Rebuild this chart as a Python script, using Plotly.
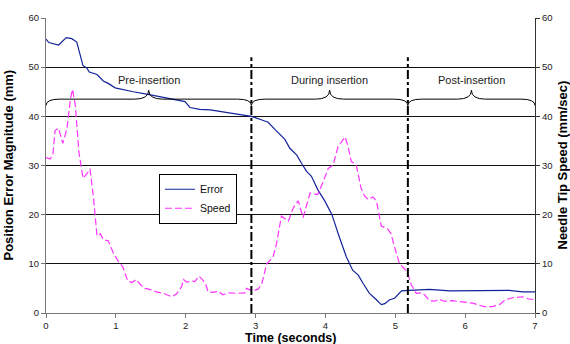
import plotly.graph_objects as go

# ---- data ----
err_t = [0, 0.04, 0.18, 0.29, 0.37, 0.44, 0.53, 0.58, 0.62, 0.73,
         0.82, 0.89, 0.99, 1.11, 1.25, 1.44, 1.63, 1.92, 1.99, 2.06,
         2.2, 2.35, 2.59, 2.78, 2.94, 3.06, 3.18, 3.28, 3.42, 3.49,
         3.59, 3.66, 3.73, 3.80, 3.89, 3.99, 4.09, 4.2, 4.3, 4.39,
         4.47, 4.54, 4.63, 4.73, 4.8, 4.85, 4.92, 4.99, 5.09, 5.2,
         5.49, 5.78, 6.16, 6.63, 6.82, 7.0]
err_v = [55.7, 55.0, 54.5, 56.0, 55.8, 55.1, 50.3, 49.9, 49.0, 48.5,
         47.2, 46.7, 45.8, 45.5, 45.0, 44.5, 44.0, 43.2, 43.0, 41.8,
         41.4, 41.3, 40.8, 40.4, 40.0, 39.4, 38.8, 37.3, 35.3, 33.5,
         32.1, 30.4, 28.8, 27.8, 25.1, 22.8, 20.1, 15.4, 11.4, 8.7,
         7.7, 6.0, 4.0, 2.7, 1.7, 1.9, 2.7, 3.0, 4.5, 4.6,
         4.8, 4.5, 4.6, 4.6, 4.3, 4.3]

spd_t = [0.0, 0.06, 0.1, 0.13, 0.18, 0.24, 0.3, 0.35, 0.38, 0.42,
         0.47, 0.53, 0.59, 0.63, 0.68, 0.73, 0.78, 0.82, 0.89, 0.97,
         1.04, 1.10, 1.17, 1.23, 1.29, 1.35, 1.42, 1.51, 1.58, 1.68,
         1.8, 1.87, 1.94, 1.97, 2.01, 2.09, 2.13, 2.19, 2.24, 2.29,
         2.32, 2.39, 2.47, 2.53, 2.61, 2.73, 2.85, 2.87, 2.92, 2.97,
         3.04, 3.09, 3.16, 3.25, 3.3, 3.37, 3.47, 3.54, 3.61, 3.68,
         3.78, 3.89, 3.97, 4.04, 4.11, 4.18, 4.28, 4.32, 4.37, 4.44,
         4.51, 4.56, 4.61, 4.68, 4.73, 4.8, 4.89, 4.94, 4.99, 5.06,
         5.13, 5.18, 5.23, 5.3, 5.37, 5.42, 5.49, 5.56, 5.63, 5.7,
         5.82, 5.92, 5.99, 6.11, 6.27, 6.39, 6.49, 6.58, 6.68, 6.82,
         6.92, 7.0]
spd_v = [31.6, 31.3, 32.4, 37.1, 37.6, 34.5, 37.5, 43.5, 45.5, 42.2,
         32.8, 27.4, 28.4, 29.3, 23.4, 15.7, 16.1, 14.9, 14.7, 12.0,
         10.4, 9.4, 6.5, 6.2, 6.8, 5.8, 5.0, 4.7, 4.3, 4.0,
         3.3, 3.9, 5.3, 6.8, 6.3, 6.5, 6.4, 7.5, 6.8, 5.7,
         4.3, 4.2, 4.4, 3.7, 4.1, 4.0, 4.1, 5.0, 4.7, 4.5,
         4.9, 6.0, 10.0, 11.4, 14.1, 19.7, 18.7, 21.4, 22.8, 19.4,
         24.4, 24.1, 26.8, 29.4, 30.1, 33.8, 35.8, 34.1, 30.8, 30.2,
         25.4, 23.8, 23.1, 23.6, 22.8, 17.7, 17.1, 16.1, 13.4, 10.0,
         9.0, 8.0, 5.7, 4.0, 4.1, 3.7, 2.5, 2.4, 2.8, 2.4,
         2.5, 2.4, 2.2, 2.0, 1.3, 1.3, 1.7, 2.7, 3.1, 3.3,
         2.8, 2.8]

phase_bounds = [0, 2.94, 5.18, 7]
phase_labels = ["Pre-insertion", "During insertion", "Post-insertion"]
x_ticks = [0, 1, 2, 3, 4, 5, 6, 7]
y_ticks = [0, 10, 20, 30, 40, 50, 60]

FONT = "Arial, Liberation Sans, sans-serif"

fig = go.Figure()
fig.add_trace(go.Scatter(x=err_t, y=err_v, name="Error", mode="lines",
                         line=dict(color="#13239a", width=1.2)))
fig.add_trace(go.Scatter(x=spd_t, y=spd_v, name="Speed", mode="lines", yaxis="y2",
                         line=dict(color="#ff33ff", width=1.2, dash="7px,3px")))

# braces
y_mid, y_end, y_peak, dx = 43.5, 42.2, 45.3, 0.2
shapes = []
for i in range(len(phase_labels)):
    x0, x1 = phase_bounds[i], phase_bounds[i + 1]
    xc = (x0 + x1) / 2
    path = (f"M{x0},{y_end} Q{x0},{y_mid} {x0+dx},{y_mid} "
            f"L{xc-dx},{y_mid} Q{xc},{y_mid} {xc},{y_peak} "
            f"Q{xc},{y_mid} {xc+dx},{y_mid} "
            f"L{x1-dx},{y_mid} Q{x1},{y_mid} {x1},{y_end}")
    shapes.append(dict(type="path", path=path, xref="x", yref="y",
                       line=dict(color="black", width=1)))
    fig.add_annotation(x=xc, y=y_peak + 0.4, text=phase_labels[i], showarrow=False,
                       yanchor="bottom", xref="x", yref="y",
                       font=dict(family=FONT, size=11, color="#222"))
for b in phase_bounds[1:-1]:
    shapes.append(dict(type="line", x0=b, x1=b, y0=0, y1=52, xref="x", yref="y",
                       line=dict(color="black", width=2, dash="dashdot")))
fig.update_layout(shapes=shapes)

axis_font = dict(family=FONT, size=9.5, color="#222")
fig.update_layout(
    width=570, height=344,
    margin=dict(l=46, r=35, t=14, b=31),
    paper_bgcolor="white", plot_bgcolor="white",
    showlegend=True,
    legend=dict(x=0.231, y=0.472, xanchor="left", yanchor="top",
                bgcolor="white", bordercolor="black", borderwidth=1,
                font=dict(family=FONT, size=10.5, color="#111"),
                tracegroupgap=0, itemwidth=30),
    xaxis=dict(range=[0, 7], tickvals=x_ticks, showgrid=False, zeroline=False,
               showline=True, linecolor="#777", linewidth=1,
               ticks="outside", ticklen=4, tickcolor="#777",
               tickfont=axis_font, ticklabelstandoff=0),
    yaxis=dict(range=[0, 60], tickvals=y_ticks, showgrid=True, gridcolor="#111",
               gridwidth=1, zeroline=False, showline=True, linecolor="#777",
               ticks="outside", ticklen=4, tickcolor="#777", tickfont=axis_font),
    yaxis2=dict(range=[0, 60], tickvals=y_ticks, overlaying="y", side="right",
                showgrid=False, zeroline=False, showline=True, linecolor="#333",
                ticks="outside", ticklen=4, tickcolor="#333", tickfont=axis_font),
)

title_font = dict(family=FONT, size=13, color="black")
fig.add_annotation(text="<b>Time (seconds)</b>", xref="paper", yref="paper",
                   x=0.5, y=0, yshift=-33, xanchor="center", yanchor="bottom",
                   showarrow=False, font=dict(family=FONT, size=12.5, color="black"),
                   borderpad=0)
fig.add_annotation(text="<b>Position Error Magnitude (mm)</b>", xref="paper", yref="paper",
                   x=0, xshift=-38, y=0.5, textangle=-90, xanchor="center",
                   yanchor="middle", showarrow=False, font=title_font)
fig.add_annotation(text="<b>Needle Tip Speed (mm/sec)</b>", xref="paper", yref="paper",
                   x=1, xshift=27, y=0.5, textangle=-90, xanchor="center",
                   yanchor="middle", showarrow=False, font=title_font)

fig.write_html("out.html", config={"displayModeBar": False},
               post_script="document.body.style.margin='0';document.body.style.overflow='hidden';")
